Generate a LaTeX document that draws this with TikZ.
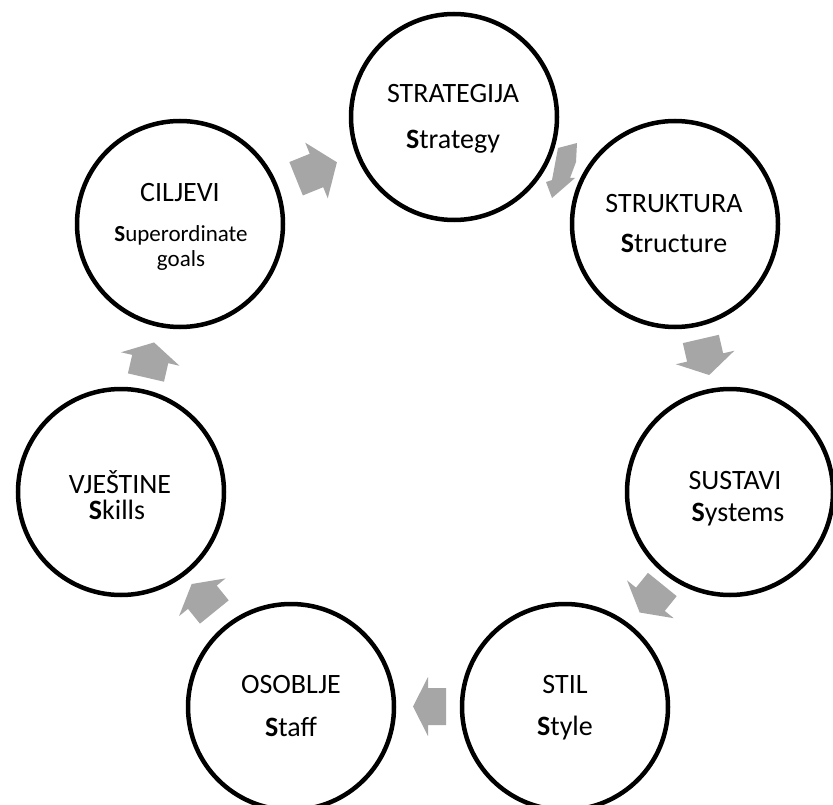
\documentclass[tikz,border=0pt]{standalone}
\usepackage{fontspec}
\setmainfont{Carlito}
\definecolor{arrowgray}{RGB}{166,166,166}
\newcommand\blockarrow[8]{% name cx cy angle L hl H S
  \begin{scope}[shift={(#2,#3)},rotate=#4]
    \coordinate (#1) at (0,0);
    \fill[arrowgray] (-#5/2,-#8/2) -- (#5/2-#6,-#8/2) -- (#5/2-#6,-#7/2) -- (#5/2,0)
      -- (#5/2-#6,#7/2) -- (#5/2-#6,#8/2) -- (-#5/2,#8/2) -- cycle;
  \end{scope}}
\begin{document}
\begin{tikzpicture}[x=1pt,y=-1pt,
  ring/.style={circle,draw=black,line width=4.5pt,minimum size=206pt,inner sep=0pt,fill=white},
  ttl/.style={anchor=base,font=\fontsize{28}{32}\selectfont,inner sep=0pt},
  sub/.style={anchor=base,font=\fontsize{28}{32}\selectfont,inner sep=0pt},
  subsm/.style={anchor=base,font=\fontsize{23}{27}\selectfont,inner sep=0pt}]
\useasboundingbox (0,0) rectangle (833,805);
\clip (0,0) rectangle (833,805);
\fill[white] (0,0) rectangle (833,805);

% circles
\node[ring] (strat) at (454,117) {};
\node[ring] (strukt) at (675,224) {};
\node[ring] (sust) at (730,492) {};
\node[ring] (stil) at (565,707) {};
\node[ring] (osob) at (291,707) {};
\node[ring] (vjest) at (121,492) {};
\node[ring] (cilj) at (180,224) {};

% texts
\node[ttl] (t1) at (453,102.7) {STRATEGIJA};
\node[sub] (s1) at (453,149) {\textbf{S}trategy};
\node[ttl] (t2) at (674,212.7) {STRUKTURA};
\node[sub] (s2) at (674,253) {\textbf{S}tructure};
\node[ttl] (t3) at (735,489) {SUSTAVI};
\node[sub] (s3) at (738,521) {\textbf{S}ystems};
\node[ttl] (t4) at (565,693) {STIL};
\node[sub] (s4) at (565,735) {\textbf{S}tyle};
\node[ttl] (t5) at (291,693) {OSOBLJE};
\node[sub] (s5) at (291,736) {\textbf{S}taff};
\node[ttl] (t6) at (120,493) {VJEŠTINE};
\node[sub] (s6) at (117,519) {\textbf{S}kills};
\node[ttl] (t7) at (180,202) {CILJEVI};
\node[subsm] (s7) at (181,242) {\textbf{S}uperordinate};
\node[subsm] (s7b) at (181,266) {goals};

% block arrows
\blockarrow{a1}{316.5}{170.5}{22}{44}{22}{60}{36}
\fill[arrowgray] (558,148) -- (577,143) -- (576,162) -- (570,178) -- (575,178) -- (552,198) -- (546,182) -- (552,180) -- cycle;
\blockarrow{a3}{705}{357}{-77}{37}{18}{60}{37}
\blockarrow{a4}{651}{598.5}{-129}{36}{17}{60}{37}
\blockarrow{a5}{429.5}{706.5}{180}{33}{15}{59}{37}
\blockarrow{a6}{203}{598}{129}{36}{17}{60}{37}
\blockarrow{a7}{150}{360}{77}{36}{17}{60}{37}
\end{tikzpicture}
\end{document}
